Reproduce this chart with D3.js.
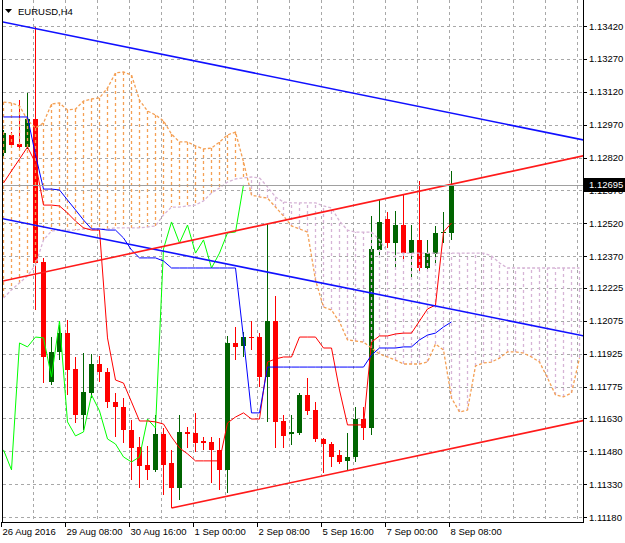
<!DOCTYPE html>
<html>
<head>
<meta charset="utf-8">
<script src="https://cdn.jsdelivr.net/npm/d3@7"></script>
<style>
  body { margin: 0; background: #fff; }
  svg { display: block; }
  text { font-family: "Liberation Sans", Arial, sans-serif; font-size: 9.5px; fill: #000; }
</style>
</head>
<body>
<svg></svg>
<script>
// EURUSD H4 bars, 26 Aug 2016 00:00 .. 8 Sep 2016 08:00
var opens = [1.12841, 1.12923, 1.12882, 1.12868, 1.12996, 1.12343, 1.11796, 1.11933, 1.12019, 1.11855,
  1.11645, 1.11746, 1.11878, 1.11842, 1.11705, 1.11682, 1.11577, 1.11499, 1.11417, 1.11395,
  1.11559, 1.11426, 1.11312, 1.11568, 1.11563, 1.11527, 1.11522, 1.11486, 1.11395, 1.11974,
  1.11960, 1.12001, 1.12001, 1.11819, 1.12074, 1.11618, 1.11559, 1.11563, 1.11737, 1.11668,
  1.11536, 1.11513, 1.11463, 1.11436, 1.11454, 1.11627, 1.11586, 1.12398, 1.12540, 1.12430,
  1.12512, 1.12384, 1.12444, 1.12316, 1.12380, 1.12476, 1.12476];
var highs = [1.12946, 1.12936, 1.13082, 1.13114, 1.13415, 1.12362, 1.12001, 1.12056, 1.12079, 1.11910,
  1.11928, 1.11924, 1.11915, 1.11860, 1.11746, 1.11723, 1.11623, 1.11545, 1.11504, 1.11645,
  1.11586, 1.11486, 1.11645, 1.11591, 1.11655, 1.11545, 1.11545, 1.11540, 1.12006, 1.12047,
  1.12024, 1.12074, 1.12019, 1.12517, 1.12188, 1.11645, 1.11645, 1.11746, 1.11814, 1.11705,
  1.11540, 1.11522, 1.11486, 1.11563, 1.11682, 1.11682, 1.12553, 1.12626, 1.12572, 1.12576,
  1.12654, 1.12512, 1.12713, 1.12444, 1.12508, 1.12572, 1.12759];
var lows = [1.12827, 1.12863, 1.12859, 1.12859, 1.12124, 1.11791, 1.11782, 1.11896, 1.11737, 1.11609,
  1.11577, 1.11723, 1.11796, 1.11677, 1.11545, 1.11518, 1.11349, 1.11312, 1.11349, 1.11385,
  1.11280, 1.11221, 1.11258, 1.11495, 1.11477, 1.11486, 1.11335, 1.11303, 1.11290, 1.11896,
  1.11910, 1.11942, 1.11773, 1.11614, 1.11495, 1.11495, 1.11509, 1.11554, 1.11645, 1.11522,
  1.11381, 1.11408, 1.11422, 1.11395, 1.11431, 1.11531, 1.11554, 1.12375, 1.12407, 1.12321,
  1.12353, 1.12275, 1.12298, 1.12307, 1.12339, 1.12430, 1.12444];
var closes = [1.12932, 1.12877, 1.12868, 1.12996, 1.12339, 1.11910, 1.11933, 1.12019, 1.11851, 1.11645,
  1.11750, 1.11878, 1.11842, 1.11705, 1.11682, 1.11577, 1.11495, 1.11413, 1.11395, 1.11559,
  1.11417, 1.11312, 1.11568, 1.11559, 1.11518, 1.11518, 1.11486, 1.11395, 1.11974, 1.11956,
  1.12001, 1.11997, 1.11819, 1.12074, 1.11614, 1.11550, 1.11568, 1.11737, 1.11664, 1.11536,
  1.11513, 1.11454, 1.11431, 1.11454, 1.11627, 1.11586, 1.12403, 1.12526, 1.12430, 1.12512,
  1.12384, 1.12444, 1.12316, 1.12384, 1.12476, 1.12480, 1.12695];

// Ichimoku lines
var tenkan = [1.12704, 1.12759, 1.12813, 1.12868, 1.12795, 1.12603, 1.12603, 1.12599, 1.12567, 1.12530,
  1.12499, 1.12489, 1.12489, 1.11997, 1.11805, 1.11791, 1.11705, 1.11618, 1.11618, 1.11614,
  1.11604, 1.11545, 1.11495, 1.11468, 1.11436, 1.11436, 1.11436, 1.11436, 1.11609, 1.11636,
  1.11655, 1.11627, 1.11627, 1.11887, 1.11901, 1.11910, 1.11910, 1.12001, 1.12001, 1.12001,
  1.11951, 1.11951, 1.11759, 1.11600, 1.11600, 1.11600, 1.11978, 1.12006, 1.12006, 1.12015,
  1.12019, 1.12019, 1.12074, 1.12129, 1.12147, 1.12480, 1.12521];
var kijun = [1.13005, 1.13005, 1.13005, 1.13005, 1.12832, 1.12676, 1.12676, 1.12672, 1.12626, 1.12581,
  1.12535, 1.12494, 1.12494, 1.12489, 1.12489, 1.12453, 1.12398, 1.12362, 1.12362, 1.12362,
  1.12348, 1.12316, 1.12316, 1.12316, 1.12316, 1.12316, 1.12316, 1.12316, 1.12316, 1.12316,
  1.11997, 1.11655, 1.11655, 1.11864, 1.11864, 1.11864, 1.11864, 1.11864, 1.11864, 1.11864,
  1.11864, 1.11864, 1.11864, 1.11864, 1.11864, 1.11864, 1.11919, 1.11951, 1.11951, 1.11951,
  1.11956, 1.11956, 1.11988, 1.12010, 1.12019, 1.12047, 1.12070];
var spanA = [1.13073, 1.13069, 1.13055, 1.12991, 1.12955, 1.12978, 1.13064, 1.13069, 1.13037, 1.13041,
  1.13078, 1.13087, 1.13092, 1.13137, 1.13206, 1.13210, 1.13196, 1.13082, 1.13032, 1.13014,
  1.12987, 1.12927, 1.12891, 1.12891, 1.12873, 1.12859, 1.12863, 1.12891, 1.12923, 1.12936,
  1.12800, 1.12649, 1.12640, 1.12635, 1.12594, 1.12553, 1.12508, 1.12494, 1.12480, 1.12261,
  1.12138, 1.12124, 1.12070, 1.11988, 1.11983, 1.11978, 1.11951, 1.11924, 1.11910, 1.11896,
  1.11878, 1.11878, 1.11878, 1.11887, 1.11969, 1.11942, 1.11723, 1.11659, 1.11668, 1.11869,
  1.11883, 1.11887, 1.11905, 1.11933, 1.11933, 1.11928, 1.11910, 1.11887, 1.11814, 1.11737,
  1.11728, 1.11746, 1.11905];
var spanB = [1.12179, 1.12216, 1.12248, 1.12280, 1.12330, 1.12444, 1.12485, 1.12489, 1.12489, 1.12489,
  1.12494, 1.12494, 1.12494, 1.12494, 1.12499, 1.12499, 1.12499, 1.12499, 1.12503, 1.12508,
  1.12558, 1.12594, 1.12594, 1.12599, 1.12603, 1.12622, 1.12658, 1.12681, 1.12708, 1.12722,
  1.12727, 1.12731, 1.12727, 1.12686, 1.12640, 1.12617, 1.12613, 1.12613, 1.12613, 1.12613,
  1.12599, 1.12590, 1.12530, 1.12489, 1.12480, 1.12480, 1.12480, 1.12444, 1.12389, 1.12384,
  1.12384, 1.12384, 1.12384, 1.12384, 1.12384, 1.12384, 1.12384, 1.12384, 1.12384, 1.12384,
  1.12384, 1.12371, 1.12339, 1.12316, 1.12316, 1.12316, 1.12316, 1.12316, 1.12316, 1.12316,
  1.12316, 1.12316, 1.12316];
var chikouShift = 26;

// trend lines: [bar, price] anchors
var blueUpper = [[0, 1.13438], [72, 1.12904]];
var blueLower = [[0, 1.12540], [72, 1.12010]];
var redUpper = [[0, 1.12257], [72, 1.12824]];
var redLower = [[21, 1.11221], [72, 1.11616]];

var priceTicks = [1.13420, 1.13270, 1.13120, 1.12970, 1.12820, 1.12670, 1.12520, 1.12370,
  1.12225, 1.12075, 1.11925, 1.11775, 1.11630, 1.11480, 1.11330, 1.11180];
var timeLabels = ["26 Aug 2016", "29 Aug 08:00", "30 Aug 16:00", "1 Sep 00:00",
  "2 Sep 08:00", "5 Sep 16:00", "7 Sep 00:00", "8 Sep 08:00"];
var timeLabelBars = [0, 8, 16, 24, 32, 40, 48, 56];
var symbolTitle = "EURUSD,H4";

var width = 625;
var height = 543;
var plot = { left: 3, right: 583, top: 0, bottom: 522 };

var svg = d3.select("svg").attr("width", width).attr("height", height);

var xScale = d3.scaleLinear().domain([0, 72.5]).range([3.5, 583.5]);
var yScale = d3.scaleLinear().domain([1.1342, 1.1118]).range([26, 517]);

var sharp = function(v) { return Math.round(v) + 0.5; };

var upCloud = "#f4a055";
var downCloud = "#d6b4d6";

svg.append("defs").append("clipPath").attr("id", "plotclip")
  .append("rect")
  .attr("x", plot.left).attr("y", plot.top)
  .attr("width", plot.right - plot.left).attr("height", plot.bottom - plot.top);

// grid
var grid = svg.append("g").attr("stroke", "#a8a8a8").attr("stroke-dasharray", "3,3")
  .attr("shape-rendering", "crispEdges");
grid.selectAll(".hg").data(priceTicks).enter().append("line")
  .attr("x1", plot.left).attr("x2", plot.right)
  .attr("y1", d => sharp(yScale(d))).attr("y2", d => sharp(yScale(d)));
grid.selectAll(".vg").data(d3.range(4, 73, 4)).enter().append("line")
  .attr("x1", d => xScale(d) - 2).attr("x2", d => xScale(d) - 2)
  .attr("y1", plot.top).attr("y2", plot.bottom);

var chart = svg.append("g").attr("clip-path", "url(#plotclip)");

// candles
var bars = d3.range(opens.length);
var candle = chart.append("g").attr("shape-rendering", "crispEdges");
candle.selectAll(".wick").data(bars).enter().append("rect")
  .attr("x", i => xScale(i) - 0.5)
  .attr("width", 1)
  .attr("y", i => yScale(highs[i]))
  .attr("height", i => Math.max(1, yScale(lows[i]) - yScale(highs[i])))
  .attr("fill", i => closes[i] >= opens[i] ? "#006400" : "#ff0000");
candle.selectAll(".body").data(bars).enter().append("rect")
  .attr("x", i => xScale(i) - 2.5)
  .attr("width", 5)
  .attr("y", i => yScale(Math.max(opens[i], closes[i])))
  .attr("height", i => Math.max(1, Math.abs(yScale(opens[i]) - yScale(closes[i]))))
  .attr("fill", i => closes[i] >= opens[i] ? "#006400" : "#ff0000");

// kumo hatching
var cloudBars = d3.range(spanA.length);
chart.append("g")
  .selectAll("line").data(cloudBars).enter().append("line")
  .attr("x1", i => xScale(i)).attr("x2", i => xScale(i))
  .attr("y1", i => yScale(spanA[i])).attr("y2", i => yScale(spanB[i]))
  .attr("stroke", i => spanA[i] >= spanB[i] ? upCloud : downCloud)
  .attr("stroke-dasharray", "3,3")
  .attr("stroke-width", 1.3);

var line = d3.line().x((d, i) => xScale(i)).y(d => yScale(d));

chart.append("path").datum(spanA).attr("d", line)
  .attr("fill", "none").attr("stroke", upCloud).attr("stroke-width", 1.3).attr("stroke-dasharray", "3,2");
chart.append("path").datum(spanB).attr("d", line)
  .attr("fill", "none").attr("stroke", downCloud).attr("stroke-width", 1.3).attr("stroke-dasharray", "3,2");

// chikou span = closes drawn back by 26 bars
var chikou = closes.slice(chikouShift);
chart.append("path").datum(chikou).attr("d", line)
  .attr("fill", "none").attr("stroke", "#00ff00").attr("stroke-width", 1);

chart.append("path").datum(tenkan).attr("d", line)
  .attr("fill", "none").attr("stroke", "#ff0000").attr("stroke-width", 1);
chart.append("path").datum(kijun).attr("d", line)
  .attr("fill", "none").attr("stroke", "#0000ff").attr("stroke-width", 1);

// trend lines
function priceAt(a, b, i) {
  return a[1] + (b[1] - a[1]) * (i - a[0]) / (b[0] - a[0]);
}
function trend(anchors, color, fromStart) {
  var a = anchors[0], b = anchors[1];
  var i0 = fromStart ? a[0] : -1;
  var i1 = 73;
  chart.append("line")
    .attr("x1", xScale(i0)).attr("y1", yScale(priceAt(a, b, i0)))
    .attr("x2", xScale(i1)).attr("y2", yScale(priceAt(a, b, i1)))
    .attr("stroke", color).attr("stroke-width", 1.6);
}
trend(blueUpper, "#1010ff", false);
trend(blueLower, "#1010ff", false);
trend(redUpper, "#ff1a1a", false);
trend(redLower, "#ff1a1a", true);

// bid line
var last = closes[closes.length - 1];
svg.append("line")
  .attr("x1", plot.left).attr("x2", plot.right + 4)
  .attr("y1", sharp(yScale(last))).attr("y2", sharp(yScale(last)))
  .attr("stroke", "#a0a0a0").attr("shape-rendering", "crispEdges");

// frame
var frame = svg.append("g").attr("stroke", "#000").attr("shape-rendering", "crispEdges");
frame.append("line").attr("x1", 2.5).attr("x2", 2.5).attr("y1", 0).attr("y2", plot.bottom + 0.5);
frame.append("line").attr("x1", 2.5).attr("x2", plot.right + 0.5)
  .attr("y1", plot.bottom + 0.5).attr("y2", plot.bottom + 0.5);
frame.append("line").attr("x1", plot.right + 0.5).attr("x2", plot.right + 0.5)
  .attr("y1", 0).attr("y2", plot.bottom + 0.5);

// price axis (the label under the current price box stays partly hidden)
var yAxis = svg.append("g");
yAxis.selectAll("line").data(priceTicks).enter().append("line")
  .attr("x1", plot.right).attr("x2", plot.right + 4)
  .attr("y1", d => sharp(yScale(d))).attr("y2", d => sharp(yScale(d)))
  .attr("stroke", "#000").attr("shape-rendering", "crispEdges");
yAxis.selectAll("text").data(priceTicks).enter().append("text")
  .attr("x", plot.right + 6)
  .attr("y", d => yScale(d) + 3.5)
  .text(d => d.toFixed(5));

// current price box
svg.append("rect")
  .attr("x", plot.right + 1).attr("y", Math.round(yScale(last)) - 7)
  .attr("width", 41).attr("height", 14).attr("fill", "#000");
svg.append("text")
  .attr("x", plot.right + 6).attr("y", yScale(last) + 3.5)
  .style("fill", "#fff")
  .text(last.toFixed(5));

// time axis
var xAxis = svg.append("g");
xAxis.selectAll("line").data(timeLabelBars).enter().append("line")
  .attr("x1", d => sharp(xScale(d) - 2.5)).attr("x2", d => sharp(xScale(d) - 2.5))
  .attr("y1", plot.bottom).attr("y2", plot.bottom + 5)
  .attr("stroke", "#000").attr("shape-rendering", "crispEdges");
xAxis.selectAll("text").data(timeLabelBars).enter().append("text")
  .attr("x", d => xScale(d) - 1)
  .attr("y", 535)
  .text((d, i) => timeLabels[i]);

// title
svg.append("path").attr("d", "M5,9 L12,9 L8.5,13 Z").attr("fill", "#000");
svg.append("text").attr("x", 18).attr("y", 15).text(symbolTitle);
</script>
</body>
</html>
